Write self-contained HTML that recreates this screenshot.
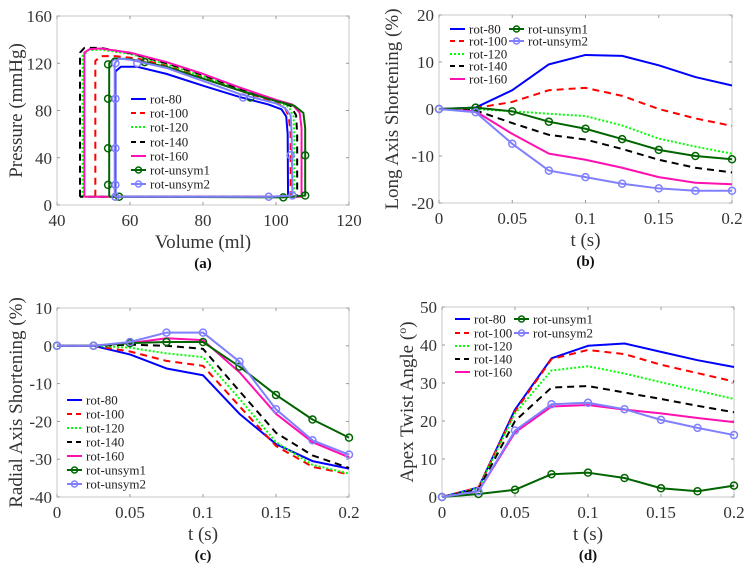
<!DOCTYPE html>
<html><head><meta charset="utf-8"><style>
body{margin:0;background:#fff}
svg{display:block;font-family:"Liberation Serif",serif}
</style></head><body>
<svg id="fig" width="752" height="568" xmlns="http://www.w3.org/2000/svg"></svg>
<script>
// ---------- data ----------
const tVals = [0,0.025,0.05,0.075,0.1,0.125,0.15,0.175,0.2];
const seriesNames = ["rot-80","rot-100","rot-120","rot-140","rot-160","rot-unsym1","rot-unsym2"];
// (a) PV loops: [volume, pressure] vertices
const pvRot80 = [[56,7],[56,113],[57.5,117],[62,117],[70,111],[80,101],[90,91.5],[98,85],[101.5,81],[102.8,75],[103.2,60],[103.3,7],[56,7]];
const pvRot100 = [[50.5,7],[50.5,122],[52,126],[56,126],[62,124],[70,118],[80,108],[90,97],[100,87],[102.5,82],[103.5,75],[104,60],[104,7],[50.5,7]];
const pvRot120 = [[47,7],[47,126],[48.5,131],[52,131.5],[60,128],[70,119],[80,109],[90,98],[100,88],[103.5,83],[104.8,75],[105,60],[105,7],[47,7]];
const pvRot140 = [[46.3,7],[46.3,129],[47.5,133],[52,133],[60,128.5],[70,120],[80,110],[90,98.5],[100,88.5],[104,84],[105.5,76],[105.8,60],[105.8,7],[46.3,7]];
const pvRot160 = [[47.5,7],[47.5,129],[49,132],[52,132.5],[60,129],[70,121],[80,111],[90,99.5],[100,89],[104.5,85],[106.5,78],[107,65],[107,7],[47.5,7]];
const pvUnsym1 = [[54.3,7],[54.3,120],[55.5,124],[60,123.5],[70,117],[80,107],[90,97],[100,88],[105,84],[107.5,78],[108,65],[108,8],[102,6.5],[57,7],[54.3,7]];
const pvUnsym2 = [[55.8,7],[55.8,120],[57,124],[60,123],[70,116],[80,105],[90,94],[100,86],[102.5,82],[104,76],[104.3,60],[104.5,8],[98,7],[55.8,7]];
const pvUnsym1Markers = [[54,119],[54,90],[54,48],[54,17],[57,7],[64,121],[93,91],[102,6.5],[108,42],[108,8]];
const pvUnsym2Markers = [[56,120],[56,90],[56,48],[56,17],[56,7],[62,120],[91,91],[98,7],[104,42],[104.5,8]];
// (b) long axis shortening
const laRot80 = [0,0.3,4,9.5,11.5,11.3,9.3,6.8,5];
const laRot100 = [0,0.2,1.5,4,4.5,2.8,0,-2,-3.6];
const laRot120 = [0,0,-0.5,-1,-1.5,-3.5,-6.3,-8,-9.5];
const laRot140 = [0,-0.3,-3,-5.5,-6.5,-8.5,-10.8,-12.5,-13.5];
const laRot160 = [0,-0.5,-5.3,-9.5,-10.8,-12.5,-14.5,-15.7,-16];
const laUnsym1 = [0,0.3,-0.5,-2.7,-4.2,-6.4,-8.7,-10,-10.7];
const laUnsym2 = [0,-0.7,-7.4,-13.1,-14.5,-15.9,-16.9,-17.4,-17.4];
// (c) radial axis shortening
const raRot80 = [0,0,-2.3,-6,-7.8,-18,-26,-30.5,-32.5];
const raRot100 = [0,0,-1.5,-4,-5.3,-16,-26.5,-32,-34];
const raRot120 = [0,0,-0.5,-2,-3,-14,-25.5,-31.5,-33.8];
const raRot140 = [0,0,0.3,0,-0.8,-12,-23,-29,-32.3];
const raRot160 = [0,0,0.7,2,1.5,-7,-18,-25.5,-29.5];
const raUnsym1 = [0,0,0.7,1,1,-5.5,-13,-19.5,-24.3];
const raUnsym2 = [0,0,1,3.5,3.5,-4.2,-16.8,-25,-28.8];
// (d) apex twist angle
const twRot80 = [0,2.5,23,36.5,39.8,40.4,38.2,36,34.2];
const twRot100 = [0,2.5,22.5,36.3,38.7,37.6,34.8,32.6,30.4];
const twRot120 = [0,2.3,22,33.3,34.4,32.5,30.2,28,25.8];
const twRot140 = [0,2,20,28.8,29.2,27.5,25.8,24,22.3];
const twRot160 = [0,1.5,17,23.8,24.2,23,22,20.8,19.7];
const twUnsym1 = [0,0.8,1.9,6,6.4,5,2.3,1.5,3];
const twUnsym2 = [0,1.5,17.5,24.4,24.8,23.1,20.3,18.2,16.3];
const ticksA_x = [40,60,80,100,120], ticksA_y = [0,40,80,120,160];
const ticksT = [0,0.05,0.1,0.15,0.2];
const ticksB_y = [-20,-10,0,10,20], ticksC_y = [-40,-30,-20,-10,0,10], ticksD_y = [0,10,20,30,40,50];

// ---------- drawing ----------
const NS="http://www.w3.org/2000/svg";
const svg=document.getElementById('fig');
const styles=[
 {c:"#0000ff",d:""},{c:"#ff0000",d:"7,5"},{c:"#00ff00",d:"2,2"},{c:"#000000",d:"7,5"},
 {c:"#ff10b0",d:""},{c:"#006400",d:"",m:true},{c:"#8080ff",d:"",m:true}];
function el(tag,attrs,parent){const e=document.createElementNS(NS,tag);for(const k in attrs)e.setAttribute(k,attrs[k]);(parent||svg).appendChild(e);return e;}
function fmt(v){return String(Math.round(v*1000)/1000);}
function axes(name,box,xd,yd,xt,yt,xtitle,ytitle,label,ytx){
  const g=el('g',{});
  
  
  const sx=v=>box.x0+(v-xd[0])/(xd[1]-xd[0])*(box.x1-box.x0);
  const sy=v=>box.y1-(v-yd[0])/(yd[1]-yd[0])*(box.y1-box.y0);
  const fr=el('rect',{x:box.x0,y:box.y0,width:box.x1-box.x0,height:box.y1-box.y0,fill:"none",stroke:"#c8c8c8","stroke-width":1},g);
  
  
  xt.forEach(v=>{const x=sx(v);
    el('line',{x1:x,x2:x,y1:box.y1,y2:box.y1-3,stroke:"#999"},g);
    el('line',{x1:x,x2:x,y1:box.y0,y2:box.y0+3,stroke:"#999"},g);
    const t=el('text',{x:x,y:box.y1+21,"text-anchor":"middle","font-size":17,fill:"#333"},g);t.textContent=fmt(v);
    
    });
  yt.forEach(v=>{const y=sy(v);
    el('line',{x1:box.x0,x2:box.x0+3,y1:y,y2:y,stroke:"#999"},g);
    el('line',{x1:box.x1,x2:box.x1-3,y1:y,y2:y,stroke:"#999"},g);
    const t=el('text',{x:box.x0-5,y:y+6,"text-anchor":"end","font-size":17,fill:"#333"},g);t.textContent=fmt(v);
    
    });
  const xtl=el('text',{x:(box.x0+box.x1)/2,y:box.y1+43,"text-anchor":"middle","font-size":19,fill:"#333"},g);xtl.textContent=xtitle;
  
  
  const cy=(box.y0+box.y1)/2;
  const ytl=el('text',{x:ytx,y:cy,"text-anchor":"middle","font-size":19,fill:"#333",transform:`rotate(-90 ${ytx} ${cy})`},g);
  ytl.innerHTML=ytitle;
  
  
  const pl=el('text',{x:(box.x0+box.x1)/2,y:box.y1+63,"text-anchor":"middle","font-size":15,"font-weight":"bold",fill:"#111"},g);pl.textContent=label;
  
  
  return {g,sx,sy};
}
function series(ax,pts,i,markers){
  const s=styles[i];
  const p=el('polyline',{points:pts.map(q=>ax.sx(q[0])+","+ax.sy(q[1])).join(" "),fill:"none",stroke:s.c,"stroke-width":2,"stroke-dasharray":s.d,"stroke-linejoin":"round"},ax.g);
  
  
  if(s.m)(markers||pts).forEach(q=>{
    const c=el('circle',{cx:ax.sx(q[0]),cy:ax.sy(q[1]),r:3.5,fill:"none",stroke:s.c,"stroke-width":1.5},ax.g);
    
    });
}
function legendEntry(ax,i,x,y){
  const s=styles[i];
  const g=el('g',{},ax.g);
  
  
  el('line',{x1:x,x2:x+15,y1:y,y2:y,stroke:s.c,"stroke-width":2,"stroke-dasharray":s.d?(s.d==="2,2"?"2,2":"5,4"):""},g);
  if(s.m)el('circle',{cx:x+7.5,cy:y,r:3,fill:"none",stroke:s.c,"stroke-width":1.5},g);
  const t=el('text',{x:x+19,y:y+4.5,"font-size":13,fill:"#222"},g);t.textContent=seriesNames[i];
}
const tsSeries=(arr)=>arr.map((v,k)=>[tVals[k],v]);

// (a)
const A=axes('panel-a-pressure-volume',{x0:57,x1:349,y0:16,y1:205},[40,120],[0,160],ticksA_x,ticksA_y,"Volume (ml)","Pressure (mmHg)","(a)",22);
[pvRot80,pvRot100,pvRot120,pvRot140,pvRot160].forEach((d,i)=>series(A,d,i));
series(A,pvUnsym1,5,pvUnsym1Markers);series(A,pvUnsym2,6,pvUnsym2Markers);
[99,113,127,142,156,170,184].forEach((y,i)=>legendEntry(A,i,131,y));

// (b)
const B=axes('panel-b-long-axis',{x0:439,x1:732,y0:15,y1:203},[0,0.2],[-20,20],ticksT,ticksB_y,"t (s)","Long Axis Shortening (%)","(b)",398);
[laRot80,laRot100,laRot120,laRot140,laRot160,laUnsym1,laUnsym2].forEach((d,i)=>series(B,tsSeries(d),i));
[29,41,54,66,79].forEach((y,i)=>legendEntry(B,i,450,y));
[29,41].forEach((y,i)=>legendEntry(B,5+i,509,y));

// (c)
const C=axes('panel-c-radial-axis',{x0:57,x1:349,y0:308,y1:497},[0,0.2],[-40,10],ticksT,ticksC_y,"t (s)","Radial Axis Shortening (%)","(c)",22);
[raRot80,raRot100,raRot120,raRot140,raRot160,raUnsym1,raUnsym2].forEach((d,i)=>series(C,tsSeries(d),i));
[400,414,428,442,456,470,484].forEach((y,i)=>legendEntry(C,i,67,y));

// (d)
const D=axes('panel-d-apex-twist',{x0:442,x1:734,y0:307,y1:497},[0,0.2],[0,50],ticksT,ticksD_y,"t (s)","Apex Twist Angle (<tspan font-size='12' dy='-7'>o</tspan><tspan dy='7'>)</tspan>","(d)",413);
[twRot80,twRot100,twRot120,twRot140,twRot160,twUnsym1,twUnsym2].forEach((d,i)=>series(D,tsSeries(d),i));
[319,333,346,359,372].forEach((y,i)=>legendEntry(D,i,455,y));
[319,333].forEach((y,i)=>legendEntry(D,5+i,514,y));
</script>
</body></html>
